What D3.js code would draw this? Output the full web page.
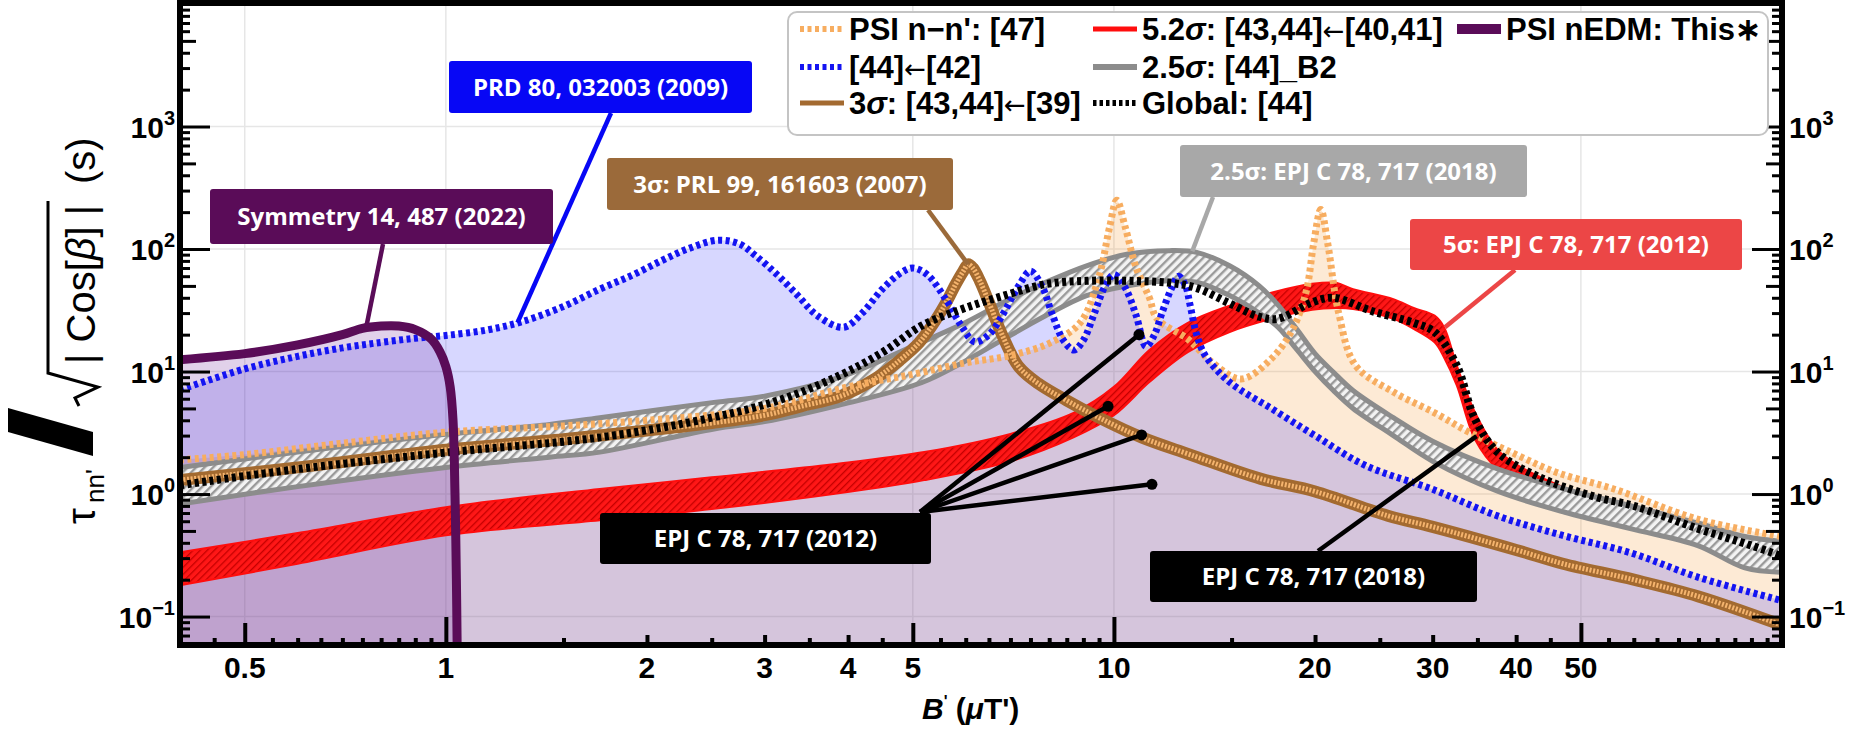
<!DOCTYPE html>
<html><head><meta charset="utf-8"><title>τnn′ limits vs B′</title>
<script src="https://cdn.jsdelivr.net/npm/d3@7/dist/d3.min.js"></script>
<style>html,body{margin:0;padding:0;background:#fff;} svg{display:block;}</style>
</head><body>
<svg id="chart" width="1852" height="735"></svg>
<script>
// ---------------- data (B' in μT', τ/sqrt|cosβ| in s) ----------------
const nnPrimeB   = [0.4,0.5,0.7,1.0,1.5,2,3,4,5,6,7,8,8.9,9.5,9.85,10.1,10.4,10.8,11.3,11.6,12.9,14,15.5,17.2,18.5,19.4,19.9,20.4,20.9,21.7,23,26.2,30.2,34,40,46,56,75,100];
const nnPrimeTau = [1.9,2.1,2.6,3.2,3.6,4.0,5.0,7.5,9.5,11.8,13.5,17,25,60,150,250,150,70,40,27,18.4,12,8.7,12.7,22,45,110,210,110,30,11.2,6.8,4.6,3.2,2.1,1.5,1.1,0.62,0.45];

const ref42B   = [0.4,0.5,0.6,0.7,0.8,0.9,1.0,1.15,1.3,1.5,1.7,1.9,2.1,2.3,2.55,2.75,2.91,3.13,3.36,3.6,3.94,4.2,4.5,4.8,5.0,5.25,5.6,5.9,6.19,6.5,6.8,7.2,7.5,7.8,8.1,8.4,8.71,9.0,9.35,9.7,10.0,10.4,10.8,11.17,11.5,11.8,12.2,12.5,12.8,13.0,13.3,13.7,14.9,17.2,20,23.8,29.9,37.6,47.3,59.5,74.8,100];
const ref42Tau = [7.1,10.5,13.3,15.6,17.3,18.7,19.7,21.8,25.5,34,47,61,80,100,118,110,88,62,42,28.5,23,30,47,64,70,62,39,24,17.5,20,28.5,50,66,50,28.5,18,15,18,30,50,62,48,28.5,16,20,30,48,60,50,35,20,13.5,8.2,5.0,3.0,1.71,1.1,0.66,0.455,0.33,0.21,0.135];

const sigma3B   = [0.4,0.6,1.0,1.5,2.0,2.5,3.0,3.4,3.9,4.4,4.8,5.1,5.35,5.6,5.8,5.95,6.05,6.15,6.3,6.5,6.8,7.2,7.7,8.5,9.5,11,13,16.6,20,25.7,30,40,47,60,75,100];
const sigma3Tau = [1.3,1.65,2.3,2.8,3.3,3.8,4.4,5.2,6.3,8.8,12.6,17,24,36,52,66,75,70,55,36.7,20,11,8,5.8,4.2,2.9,2.1,1.33,1.05,0.665,0.54,0.35,0.27,0.2,0.146,0.085];

const sigma52B  = [0.4,0.6,1.0,1.7,2.5,3.8,5.2,7.0,8.7,10.0,11.3,12.9,14.9,17.2,19.8,21.5,22.8,26.2,28.1,30.2,31.2,32.6,34.7,37.5,40,46,53,60,75,86,100];
const sigma52Hi = [0.335,0.48,0.78,1.1,1.37,1.75,2.2,3.1,4.6,7.5,15,25,34.5,44,52,53,47,39,33,28.6,23,11.2,4.65,2.3,1.75,1.2,0.9,0.8,0.58,0.45,0.36];
const sigma52Lo = [0.18,0.27,0.46,0.61,0.755,1.0,1.3,1.85,2.9,4.4,8.2,14.4,21,26.9,32,33,32.4,26.9,22.3,17.3,13,7.7,2.8,1.6,1.3,0.95,0.72,0.62,0.48,0.36,0.27];

const sigma25B  = [0.4,0.6,1.0,1.43,1.7,2.52,3.0,3.87,5.15,5.93,6.84,7.9,9.1,10.5,12.1,13.3,14.9,16.5,17.6,18.8,20,21.3,22.8,26.2,30,37.6,47.3,59.5,74.8,88,100];
const sigma25Hi = [1.65,2.2,3.07,3.7,4.2,5.6,6.3,8.9,17.3,24.4,36.7,53.4,73,91,97,94,73,50,35,22,14,9.9,7.0,4.2,2.7,1.6,1.1,0.8,0.58,0.45,0.41];
const sigma25Lo = [0.83,1.15,1.65,2.0,2.2,3.4,3.9,5.3,8.1,11.8,18.4,28.5,41.6,50.2,55,53.5,41.7,30,23,15,10,7,5.0,3.0,1.85,1.05,0.71,0.52,0.38,0.25,0.23];

const globalB   = [0.4,0.6,1.0,1.7,2.5,3.17,3.87,4.5,5.15,5.93,6.84,7.9,9.1,10.5,12.1,13.3,14.9,16.5,17.6,19.8,21.3,24.4,28.1,30.2,32.6,34.7,37.5,43,52.5,60,75,90,100];
const globalTau = [1.18,1.6,2.18,2.9,4.2,5.9,9.2,14.3,23.6,32.4,41.6,51.7,55,55,53,48,36,28,27,36.7,40,31,25,21,11.2,4.1,2.2,1.4,0.95,0.8,0.52,0.38,0.31];

const nedmB   = [0.4,0.5,0.6,0.7,0.75,0.8,0.85,0.9,0.95,0.98,1.0,1.015,1.025,1.032,1.037,1.04];
const nedmTau = [12.5,14,16.5,20,22.5,23.5,23.5,22,18.5,14.5,11,7.5,4,1,0.2,0.05];

const legendLabels = ["PSI n−n': [47]","[44]←[42]","3σ: [43,44]←[39]","5.2σ: [43,44]←[40,41]","2.5σ: [44]_B2","Global: [44]","PSI nEDM: This∗"];

const calloutTexts = ["PRD 80, 032003 (2009)","Symmetry 14, 487 (2022)","3σ: PRL 99, 161603 (2007)","2.5σ: EPJ C 78, 717 (2018)","5σ: EPJ C 78, 717 (2012)","EPJ C 78, 717 (2012)","EPJ C 78, 717 (2018)"];
// points (B', τ) each callout leads to
const calloutTargets = [[[1.28,25]],[[0.76,23]],[[6.05,75]],[[13.1,96]],[[31.3,23]],[[10.9,20],[9.8,5.2],[11.0,3.04],[11.4,1.2]],[[34.9,2.97]]];

const xLabelValues = [0.5,1,2,3,4,5,10,20,30,40,50];
const yLabelExponents = [-1,0,1,2,3];

// ---------------- scales ----------------
const svg = d3.select("#chart");
const P = {left:180, right:1782, top:4, bottom:645};
const x = d3.scaleLog().domain([0.4,100]).range([P.left,P.right]);
const y = d3.scaleLog().domain([0.0586,1e4]).range([P.bottom,P.top]);
const zip = (a,b) => a.map((v,i)=>[v,b[i]]);

const defs = svg.append("defs");
defs.append("clipPath").attr("id","plotClip").append("rect")
  .attr("x",P.left).attr("y",P.top).attr("width",P.right-P.left).attr("height",P.bottom-P.top);
const gh = defs.append("pattern").attr("id","grayHatch").attr("width",6).attr("height",6)
  .attr("patternUnits","userSpaceOnUse").attr("patternTransform","rotate(45)");
gh.append("rect").attr("width",6).attr("height",6).attr("fill","#f3f3f3");
gh.append("rect").attr("width",2.4).attr("height",6).attr("fill","#9a9a9a");
const rh = defs.append("pattern").attr("id","redHatch").attr("width",5).attr("height",5)
  .attr("patternUnits","userSpaceOnUse").attr("patternTransform","rotate(45)");
rh.append("rect").attr("width",5).attr("height",5).attr("fill","#ff1717");
rh.append("rect").attr("width",1.3).attr("height",5).attr("fill","#c40000");

const curve = d3.curveCatmullRom.alpha(0.5);
const line = d3.line().x(d=>x(d[0])).y(d=>y(d[1])).curve(curve);
const areaBelow = d3.area().x(d=>x(d[0])).y0(P.bottom).y1(d=>y(d[1])).curve(curve);
const band = d3.area().x(d=>x(d[0])).y0(d=>y(d[1])).y1(d=>y(d[2])).curve(curve);

// ---------------- grid ----------------
const grid = svg.append("g");
[0.5,1,5,10,50].forEach(v=>grid.append("line").attr("x1",x(v)).attr("x2",x(v)).attr("y1",P.top).attr("y2",P.bottom)
  .attr("stroke","#e6e6e6").attr("stroke-width",1.5));
[0.1,1,10,100,1000].forEach(v=>grid.append("line").attr("x1",P.left).attr("x2",P.right).attr("y1",y(v)).attr("y2",y(v))
  .attr("stroke","#e6e6e6").attr("stroke-width",1.5));

const plot = svg.append("g").attr("clip-path","url(#plotClip)");

// filled regions
plot.append("path").datum(zip(nnPrimeB,nnPrimeTau)).attr("d",areaBelow).attr("fill","rgba(248,160,62,0.22)");
plot.append("path").datum(zip(ref42B,ref42Tau)).attr("d",areaBelow).attr("fill","rgba(20,20,255,0.17)");
plot.append("path").datum(zip(nedmB,nedmTau)).attr("d",areaBelow).attr("fill","rgba(105,25,150,0.2)");

// 5.2σ band
const redData = sigma52B.map((b,i)=>[b,sigma52Lo[i],sigma52Hi[i]]);
plot.append("path").datum(redData).attr("d",band).attr("fill","url(#redHatch)").attr("stroke","#ff0d0d").attr("stroke-width",2);

// 2.5σ band
const grayData = sigma25B.map((b,i)=>[b,sigma25Lo[i],sigma25Hi[i]]);
plot.append("path").datum(grayData).attr("d",band).attr("fill","url(#grayHatch)");
plot.append("path").datum(zip(sigma25B,sigma25Hi)).attr("d",line).attr("fill","none").attr("stroke","#8c8c8c").attr("stroke-width",5);
plot.append("path").datum(zip(sigma25B,sigma25Lo)).attr("d",line).attr("fill","none").attr("stroke","#8c8c8c").attr("stroke-width",5);

// 3σ tube
plot.append("path").datum(zip(sigma3B,sigma3Tau)).attr("d",line).attr("fill","none").attr("stroke","#a36a30").attr("stroke-width",12);
plot.append("path").datum(zip(sigma3B,sigma3Tau)).attr("d",line).attr("fill","none").attr("stroke","#f5b46e").attr("stroke-width",5).attr("stroke-dasharray","2 1.6");

// dotted curves
plot.append("path").datum(zip(nnPrimeB,nnPrimeTau)).attr("d",line).attr("fill","none").attr("stroke","#f7ad60").attr("stroke-width",7).attr("stroke-dasharray","4 3.5");
plot.append("path").datum(zip(ref42B,ref42Tau)).attr("d",line).attr("fill","none").attr("stroke","#1414f2").attr("stroke-width",7).attr("stroke-dasharray","4 3.5");
plot.append("path").datum(zip(globalB,globalTau)).attr("d",line).attr("fill","none").attr("stroke","#000").attr("stroke-width",8).attr("stroke-dasharray","4 3.5");

// nEDM
plot.append("path").datum(zip(nedmB,nedmTau)).attr("d",line).attr("fill","none").attr("stroke","#5a0c58").attr("stroke-width",9).attr("stroke-linecap","round");

// ---------------- ticks ----------------
const axes = svg.append("g");
function xTicks(vals,len){
  axes.append("g").attr("transform",`translate(0,${P.bottom})`)
    .call(d3.axisBottom(x).tickValues(vals).tickSize(-len).tickFormat(""))
    .call(g=>{g.select(".domain").remove();g.selectAll("line").attr("stroke","#000").attr("stroke-width",4);});
}
xTicks([1,10],28); xTicks([0.5,5,50],22); xTicks([2,3,4,20,30,40],10);
xTicks([0.45,0.55,0.6,0.65,0.7,0.75,0.8,0.85,0.9,0.95,1.5,2.5,3.5,4.5,5.5,6,6.5,7,7.5,8,8.5,9,9.5,15,25,35,45,55,60,65,70,75,80,85,90,95],7);

const yDec = [0.1,1,10,100,1000];
const yFive = [], yOther = [];
[0.01,0.1,1,10,100,1000].forEach(d=>{for(let k=2;k<=9;k++){const v=k*d; if(v>0.0586&&v<1e4){(k===5?yFive:yOther).push(v);}}});
function yTicks(vals,len){
  axes.append("g").attr("transform",`translate(${P.left},0)`)
    .call(d3.axisLeft(y).tickValues(vals).tickSize(-len).tickFormat(""))
    .call(g=>{g.select(".domain").remove();g.selectAll("line").attr("stroke","#000").attr("stroke-width",3);});
  axes.append("g").attr("transform",`translate(${P.right},0)`)
    .call(d3.axisRight(y).tickValues(vals).tickSize(-len).tickFormat(""))
    .call(g=>{g.select(".domain").remove();g.selectAll("line").attr("stroke","#000").attr("stroke-width",3);});
}
yTicks(yDec,30); yTicks(yFive,16); yTicks(yOther,10);

// frame
svg.append("rect").attr("x",P.left).attr("y",3).attr("width",P.right-P.left).attr("height",P.bottom-3)
  .attr("fill","none").attr("stroke","#000").attr("stroke-width",6);

// tick labels
const lab = svg.append("g").style("font-family","'Liberation Sans',Arial,sans-serif").style("font-weight","bold").attr("fill","#000");
xLabelValues.forEach(v=>lab.append("text").attr("x",x(v)).attr("y",678).attr("text-anchor","middle").style("font-size","30px").text(v));
yLabelExponents.forEach(e=>{
  const v = Math.pow(10,e), s = e<0?"−"+(-e):String(e);
  const t1 = lab.append("text").attr("x",175).attr("y",y(v)+11).attr("text-anchor","end").style("font-size","30px");
  t1.append("tspan").text("10"); t1.append("tspan").attr("dy",-13).style("font-size","20px").text(s);
  const t2 = lab.append("text").attr("x",1789).attr("y",y(v)+11).attr("text-anchor","start").style("font-size","30px");
  t2.append("tspan").text("10"); t2.append("tspan").attr("dy",-13).style("font-size","20px").text(s);
});

// x title
const xt = lab.append("text").attr("x",922).attr("y",719).style("font-size","30px");
xt.append("tspan").style("font-style","italic").text("B");
xt.append("tspan").attr("dy",-12).style("font-size","16px").text("'");
xt.append("tspan").attr("dy",12).text(" (");
xt.append("tspan").style("font-style","italic").text("μ");
xt.append("tspan").text("T')");

// y title
const yt = svg.append("g").attr("transform","translate(95,524) rotate(-90)")
  .style("font-family","'Liberation Sans',Arial,sans-serif").attr("fill","#000");
yt.append("text").attr("x",0).attr("y",0).style("font-size","40px").text("τ");
yt.append("text").attr("x",21).attr("y",9).style("font-size","26px").text("nn'");
yt.append("path").attr("d","M68,-2 L92,-2 L116,-87 L92,-87 Z").attr("fill","#000");
yt.append("path").attr("d","M118,-16 L126,-20 L137,3 L151,-47 L323,-47").attr("fill","none").attr("stroke","#000").attr("stroke-width",3);
const cosT = yt.append("text").attr("x",160).attr("y",0).style("font-size","40px");
cosT.append("tspan").text("| Cos[");
cosT.append("tspan").style("font-style","italic").text("β");
cosT.append("tspan").text("] |");
yt.append("text").attr("x",340).attr("y",0).style("font-size","40px").text("(s)");

// ---------------- callouts ----------------
const boxes = [
  {c:"#0707f5", r:[449,61,752,113], a:[611,113]},
  {c:"#5a0c58", r:[210,189,553,244], a:[383,244]},
  {c:"#9b6a3a", r:[607,158,953,210], a:[928,210]},
  {c:"#a8a8a8", r:[1180,145,1527,197], a:[1213,197]},
  {c:"#ec4646", r:[1410,219,1742,270], a:[1515,270]},
  {c:"#000000", r:[600,513,931,564], a:[920,512], dots:true},
  {c:"#000000", r:[1150,551,1477,602], a:[1318,551]}
];
const co = svg.append("g");
boxes.forEach((b,i)=>{
  calloutTargets[i].forEach(p=>{
    co.append("line").attr("x1",b.a[0]).attr("y1",b.a[1]).attr("x2",x(p[0])).attr("y2",y(p[1]))
      .attr("stroke",b.c).attr("stroke-width",4.5);
    if(b.dots) co.append("circle").attr("cx",x(p[0])).attr("cy",y(p[1])).attr("r",5.5).attr("fill","#000");
  });
});
boxes.forEach((b,i)=>{
  co.append("rect").attr("x",b.r[0]).attr("y",b.r[1]).attr("width",b.r[2]-b.r[0]).attr("height",b.r[3]-b.r[1])
    .attr("rx",3).attr("fill",b.c);
  co.append("text").attr("x",(b.r[0]+b.r[2])/2).attr("y",(b.r[1]+b.r[3])/2+8.5).attr("text-anchor","middle")
    .style("font-family","'Open Sans',sans-serif").style("font-weight","700").style("font-size","24px")
    .attr("fill","#fff").text(calloutTexts[i]);
});

// ---------------- legend ----------------
const lg = svg.append("g").style("font-family","'Liberation Sans',Arial,sans-serif").style("font-weight","bold").style("font-size","31px");
lg.append("rect").attr("x",788).attr("y",12).attr("width",980).attr("height",123).attr("rx",9)
  .attr("fill","#fff").attr("stroke","#c4c4c4").attr("stroke-width",2);
const sampleStyles = [
  {c:"#f7ad60", w:6, d:"4 3.5"}, {c:"#1414f2", w:6, d:"4 3.5"}, {c:"#a36a30", w:5, d:null},
  {c:"#ff0d0d", w:5, d:null}, {c:"#8c8c8c", w:6, d:null}, {c:"#000", w:6, d:"3.5 3"}, {c:"#5a0c58", w:10, d:null}
];
const colX = [800,1093,1457], rowY = [29,67,103];
legendLabels.forEach((t,i)=>{
  const col = Math.floor(i/3), row = i%3;
  const sx = colX[col], sy = rowY[row], st = sampleStyles[i];
  const l = lg.append("line").attr("x1",sx).attr("x2",sx+44).attr("y1",sy).attr("y2",sy)
    .attr("stroke",st.c).attr("stroke-width",st.w);
  if(st.d) l.attr("stroke-dasharray",st.d);
  const tx = lg.append("text").attr("x",sx+49).attr("y",sy+11);
  // σ in italics, arrows from a font with a full-size glyph
  t.split(/(σ|←)/).filter(s=>s.length).forEach(p=>{
    const ts = tx.append("tspan").text(p);
    if(p==="σ") ts.style("font-style","italic");
    if(p==="←") ts.style("font-family","'DejaVu Sans',sans-serif").style("font-size","26px").style("font-weight","normal");
  });
});
</script>
</body></html>
